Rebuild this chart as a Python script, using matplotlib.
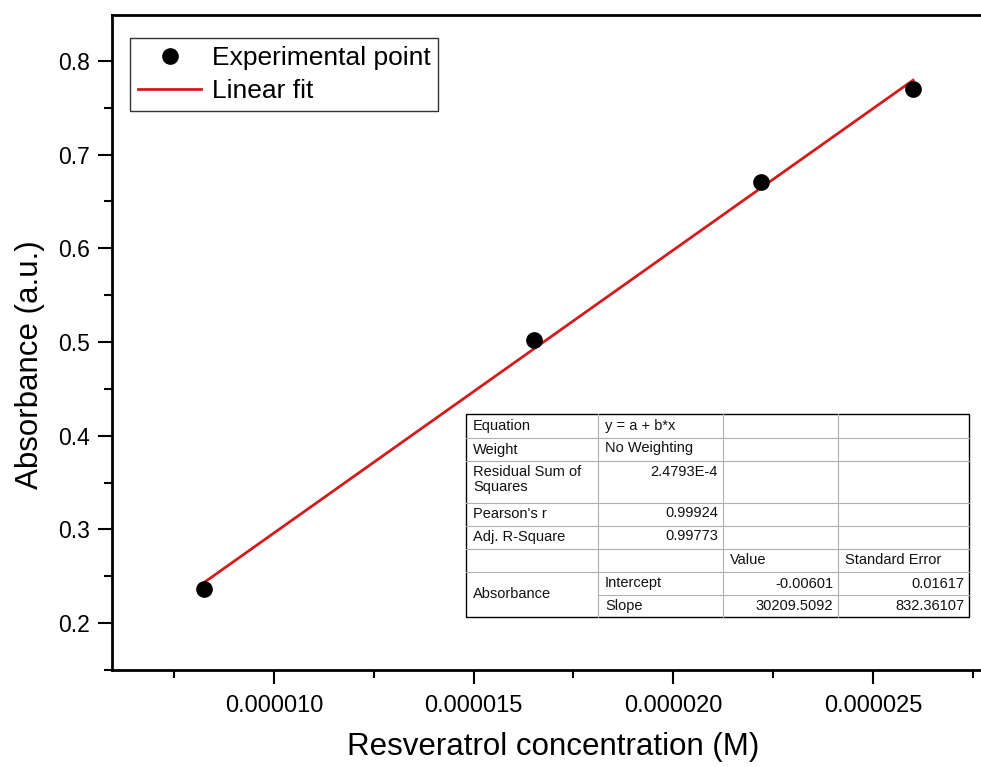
import numpy as np
import matplotlib
matplotlib.use("Agg")
import matplotlib.pyplot as plt
from matplotlib.lines import Line2D
from matplotlib.ticker import MultipleLocator, FormatStrFormatter

plt.rcParams['font.family'] = ['Liberation Sans', 'DejaVu Sans']

# data
conc = [8.25e-6, 1.65e-5, 2.22e-5, 2.60e-5]
absorb = [0.236, 0.502, 0.671, 0.770]
# fit results as printed in the table
intercept = -0.00601
slope = 30209.5092

table_rows = [
    ["Equation", "y = a + b*x", "", ""],
    ["Weight", "No Weighting", "", ""],
    ["Residual Sum of\nSquares", "2.4793E-4", "", ""],
    ["Pearson's r", "0.99924", "", ""],
    ["Adj. R-Square", "0.99773", "", ""],
    ["", "", "Value", "Standard Error"],
    ["Absorbance", "Intercept", "-0.00601", "0.01617"],
    ["", "Slope", "30209.5092", "832.36107"],
]

W, H = 981, 767
fig = plt.figure(figsize=(W / 100, H / 100), dpi=100)
ax = fig.add_axes([112 / W, 1 - 670 / H, (W - 112) / W, (670 - 15) / H])

ax.plot(conc, absorb, 'o', color='black', markersize=11, label='Experimental point', zorder=3)
xf = np.array([conc[0], conc[-1]])
ax.plot(xf, intercept + slope * xf, color='#d41c1c', lw=2, label='Linear fit', zorder=2)

ax.set_xlim(5.95e-6, 2.77e-5)
ax.set_ylim(0.15, 0.849)
ax.xaxis.set_major_locator(MultipleLocator(5e-6))
ax.xaxis.set_minor_locator(MultipleLocator(2.5e-6))
ax.yaxis.set_major_locator(MultipleLocator(0.1))
ax.yaxis.set_minor_locator(MultipleLocator(0.05))
ax.xaxis.set_major_formatter(FormatStrFormatter('%.6f'))
ax.yaxis.set_major_formatter(FormatStrFormatter('%.1f'))
ax.tick_params(which='major', direction='out', length=10, width=1.5)
ax.tick_params(which='minor', direction='out', length=6, width=1.5)
ax.tick_params(axis='x', labelsize=17, pad=8)
ax.tick_params(axis='y', labelsize=16.5, pad=6)
ax.spines['right'].set_visible(False)
for s in ['left', 'bottom', 'top']:
    ax.spines[s].set_linewidth(2)

ax.set_xlabel('Resveratrol concentration (M)', fontsize=22.5)
ax.set_ylabel('Absorbance (a.u.)', fontsize=22.5)
ax.xaxis.set_label_coords(0.508, -0.095)
ax.yaxis.set_label_coords(-0.077, 0.466)

leg = ax.legend(loc='upper left', bbox_to_anchor=((130 - 112) / (W - 112), 1 - (38 - 15) / 655),
                fontsize=19, frameon=True, fancybox=False, edgecolor='black',
                borderaxespad=0, handlelength=2.4, handletextpad=0.4,
                borderpad=0.3, labelspacing=0.35)
leg.get_frame().set_linewidth(1)

# fit report table, drawn in figure pixel coordinates
def px(x, y):
    return x / W, 1 - y / H

cols = [466, 598, 723, 838, 969]
rows = [414, 438, 461.5, 503, 526, 549, 572, 595, 617]
grey = '#b0b0b0'
for y in rows[1:-1]:
    x0 = cols[1] if y == rows[7] else cols[0]
    fig.add_artist(Line2D([x0 / W, cols[-1] / W], [1 - y / H] * 2, color=grey, lw=0.8))
for x in cols[1:-1]:
    fig.add_artist(Line2D([x / W] * 2, [1 - rows[0] / H, 1 - rows[-1] / H], color=grey, lw=0.8))
fig.add_artist(plt.Rectangle(px(cols[0], rows[-1]), (cols[-1] - cols[0]) / W,
                             (rows[-1] - rows[0]) / H, fill=False, ec='black', lw=1))
fig.add_artist(plt.Rectangle(px(cols[0], rows[-1]), (cols[-1] - cols[0]) / W,
                             (rows[-1] - rows[0]) / H, fill=True, fc='white', ec='none', zorder=0.5))

fs = 10.5
for r, row in enumerate(table_rows):
    for c, txt in enumerate(row):
        if not txt:
            continue
        top = rows[r]
        bot = rows[r + 1]
        if r == 6 and c == 0:
            bot = rows[8]
        right_align = c >= 2 and r >= 6 or (c == 1 and r in (2, 3, 4))
        if right_align:
            x = cols[c + 1] - 5
            ha = 'right'
        else:
            x = cols[c] + 7
            ha = 'left'
        if (r in (2, 3, 4) and c == 1) or (r == 2 and c == 0) or (r == 1 and c == 1):
            y = top + 3
            va = 'top'
        else:
            y = (top + bot) / 2
            va = 'center'
        fig.text(x / W, 1 - y / H, txt, fontsize=fs, ha=ha, va=va, linespacing=1.15,
                 color='#111111')

fig.savefig('out.png', dpi=100)
